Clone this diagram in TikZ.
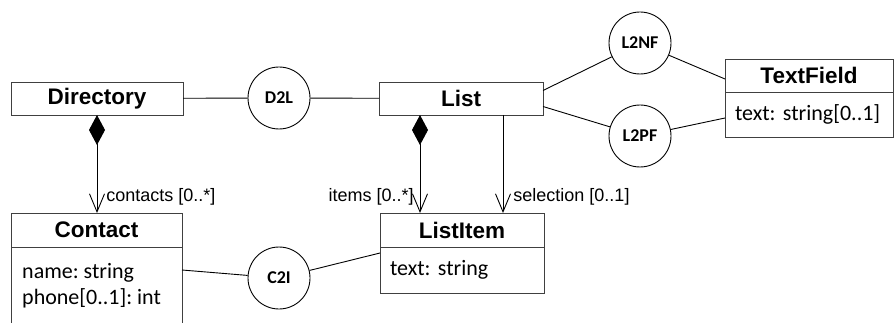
\documentclass[tikz,border=0pt]{standalone}
\usepackage{fontspec}
\setmainfont{Liberation Sans}
\newfontfamily\attrfont{Carlito}
\usetikzlibrary{arrows.meta,positioning}
\frenchspacing

\begin{document}
\begin{tikzpicture}[x=1pt, y=-1pt,
  classbox/.style={draw=black!75, line width=0.9pt, minimum height=33pt, inner sep=0pt, outer sep=0pt, font=\fontsize{22.5}{26}\selectfont\bfseries},
  attrbox/.style={draw=black!75, line width=0.9pt, align=left, inner xsep=10pt, inner ysep=0pt, outer sep=0pt, font=\attrfont\fontsize{22}{26}\selectfont},
  attrtext/.style={align=left, inner sep=0pt, font=\attrfont\fontsize{22}{26}\selectfont},
  assoc/.style={circle, draw, line width=0.9pt, minimum size=62pt, inner sep=0pt, font=\attrfont\fontsize{18}{20}\selectfont\bfseries},
  conn/.style={draw, line width=0.9pt},
  comp/.style={conn, {Diamond[length=30pt, width=16pt]}-{Straight Barb[length=18pt, width=15pt]}},
  nav/.style={conn, -{Straight Barb[length=18pt, width=15pt]}},
  role/.style={font=\fontsize{18}{20}\selectfont, inner sep=0pt}
]
  \clip (0,0) rectangle (896,323);

  % classes
  \node[classbox, minimum width=172pt, anchor=north west] (directory) at (11,82) {Directory};
  \node[classbox, minimum width=164pt, anchor=north west] (list) at (379,82) {List};
  \node[classbox, minimum width=168pt, anchor=north west] (textfield) at (725,59) {TextField};
  \node[attrbox, text width=148pt, minimum height=45pt, below=0pt of textfield] (textfield-attr) {\mbox{text: string[0..1]}};
  \node[classbox, minimum width=171pt, minimum height=34pt, anchor=north west] (contact) at (11,213) {Contact};
  \node[attrbox, text width=151pt, minimum height=100pt, below=0pt of contact] (contact-attr) {};
  \node[attrtext, anchor=base west] (contact-text) at ([xshift=11pt, yshift=-57pt]contact-attr.north west) {name: string\\phone[0..1]: int};
  \node[classbox, minimum width=164pt, minimum height=34pt, anchor=north west] (listitem) at (380,213) {ListItem};
  \node[attrbox, text width=144pt, minimum height=46pt, below=0pt of listitem] (listitem-attr) {text: string};

  % mappings
  \node[assoc] (d2l) at (279,98) {D2L};
  \node[assoc] (l2nf) at (640,43) {L2NF};
  \node[assoc] (l2pf) at (640,136) {L2PF};
  \node[assoc] (c2i) at (279,278) {C2I};

  \draw[conn] (directory) -- (d2l) -- (list);
  \draw[conn] ([yshift=8pt]list.east) -- (l2nf) -- ([yshift=-3.5pt]textfield.west);
  \draw[conn] ([yshift=-8pt]list.east) -- (l2pf) -- ([yshift=-3.5pt]textfield-attr.west);
  \draw[conn] ([yshift=-23pt]contact-attr.north east) -- (c2i) -- ([yshift=-6pt]listitem-attr.north west);

  % references
  \draw[comp] (directory.south) -- (directory.south |- contact.north)
    node[role, pos=0.84, right=9pt] {contacts [0..*]};
  \draw[comp] ([xshift=-41pt]list.south) -- ([xshift=-41pt]list.south |- listitem.north)
    node[role, pos=0.84, left=6pt] {items [0..*]};
  \draw[nav] ([xshift=42pt]list.south) -- ([xshift=42pt]list.south |- listitem.north)
    node[role, pos=0.84, right=10pt] {selection [0..1]};
\end{tikzpicture}
\end{document}
